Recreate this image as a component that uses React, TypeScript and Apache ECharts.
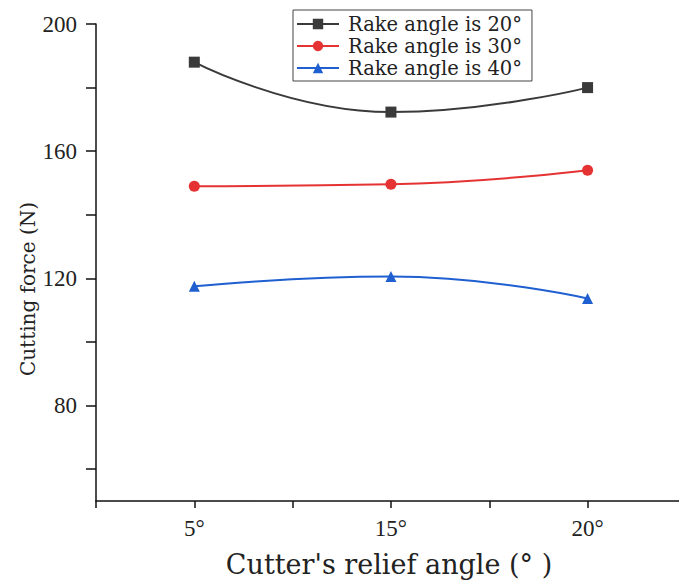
import React, { useEffect, useRef } from "react";
import * as echarts from "echarts";

const categories = ["5°", "15°", "20°"];
const seriesNames = ["Rake angle is 20°", "Rake angle is 30°", "Rake angle is 40°"];
const rake20 = [188, 172.3, 180];
const rake30 = [149, 149.6, 154];
const rake40 = [117.5, 120.6, 113.7];
const yTickLabels = [80, 120, 160, 200];
const yTicks = [60, 80, 100, 120, 140, 160, 180, 200];
const xTicks = [0, 1, 2, 3, 4, 5];
const xTitle = "Cutter's relief angle (° )";
const yTitle = "Cutting force (N)";

const colors = ["#3a3a3a", "#e53333", "#1f5fd0"];
const symbols = ["rect", "circle", "triangle"];

const serifNum = "'Liberation Serif', 'Times New Roman', serif";
const serifText = "'DejaVu Serif', serif";

export default function App() {
  const ref = useRef<HTMLDivElement>(null);
  useEffect(() => {
    document.body.style.margin = "0";
    document.body.style.overflow = "hidden";
    const chart = echarts.init(ref.current!, null, { renderer: "svg" });
    const allSeries = [rake20, rake30, rake40];
    chart.setOption({
      animation: false,
      backgroundColor: "#ffffff",
      grid: { left: 96, top: 24, width: 583, height: 477, containLabel: false },
      legend: {
        orient: "vertical",
        left: 293,
        top: 10,
        padding: [3, 10, 2, 3],
        itemGap: 0,
        itemWidth: 42,
        itemHeight: 13,
        borderColor: "#444",
        borderWidth: 1,
        borderRadius: 0,
        data: seriesNames,
        textStyle: {
          fontFamily: serifText,
          fontSize: 19.5,
          color: "#222",
          lineHeight: 22,
          padding: [0, 0, 0, 4],
        },
      },
      xAxis: {
        type: "value",
        min: 0,
        max: 5.93,
        axisLine: { lineStyle: { color: "#111", width: 1.5 } },
        axisTick: {
          show: true,
          length: 7,
          customValues: xTicks,
          lineStyle: { color: "#111", width: 1.5 },
        },
        axisLabel: {
          customValues: categories.map((_, i) => i * 2 + 1),
          formatter: (v: number) => categories[(v - 1) / 2] ?? "",
          fontFamily: serifNum,
          fontSize: 23,
          color: "#222",
          margin: 16,
        },
        splitLine: { show: false },
      },
      yAxis: {
        type: "value",
        min: 50,
        max: 200,
        axisLine: { show: true, lineStyle: { color: "#111", width: 1.5 } },
        axisTick: {
          show: true,
          length: 10,
          customValues: yTicks,
          lineStyle: { color: "#111", width: 1.5 },
        },
        axisLabel: {
          customValues: yTickLabels,
          fontFamily: serifNum,
          fontSize: 23,
          color: "#222",
          margin: 19,
        },
        splitLine: { show: false },
      },
      graphic: [
        {
          type: "text",
          x: 28,
          y: 289,
          rotation: Math.PI / 2,
          style: {
            text: yTitle,
            fontFamily: serifText,
            fontSize: 20,
            fill: "#222",
            align: "center",
            verticalAlign: "middle",
          },
        },
        {
          type: "text",
          x: 389,
          y: 564,
          style: {
            text: xTitle,
            fontFamily: serifText,
            fontSize: 27,
            fill: "#222",
            align: "center",
            verticalAlign: "middle",
          },
        },
      ],
      series: allSeries.map((vals, s) => ({
        name: seriesNames[s],
        type: "line",
        smooth: 0.5,
        symbol: symbols[s],
        symbolSize: 11,
        data: vals.map((v, i) => [i * 2 + 1, v]),
        lineStyle: { color: colors[s], width: 2 },
        itemStyle: { color: colors[s] },
      })),
    });
    return () => chart.dispose();
  }, []);
  return (
    <div
      ref={ref}
      style={{ position: "fixed", left: 0, top: 0, width: 679, height: 581, overflow: "hidden" }}
    />
  );
}
